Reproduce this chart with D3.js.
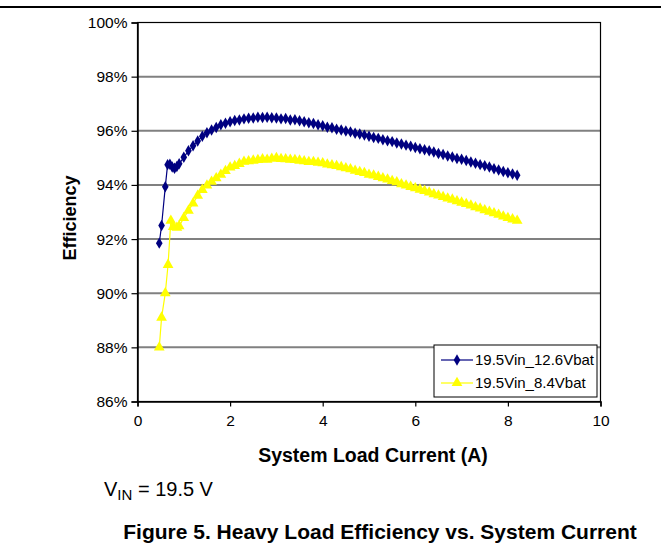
<!DOCTYPE html>
<html lang="en">
<head>
<meta charset="utf-8">
<title>Heavy Load Efficiency vs. System Current</title>
<script src="https://cdn.jsdelivr.net/npm/d3@7"></script>
<style>
  body { margin: 0; background: #fff; }
  text { font-family: Arial, "Liberation Sans", sans-serif; }
</style>
</head>
<body>
<script>
// load current (A) and efficiency (%)
var x126 = [0.47, 0.52, 0.60, 0.65, 0.70, 0.75, 0.80, 0.85, 0.9,
  1.0, 1.1, 1.2, 1.3, 1.4, 1.5, 1.6, 1.7, 1.8, 1.9, 2.0, 2.1, 2.2, 2.3, 2.4, 2.5, 2.6, 2.7, 2.8, 2.9,
  3.0, 3.1, 3.2, 3.3, 3.4, 3.5, 3.6, 3.7, 3.8, 3.9, 4.0, 4.1, 4.2, 4.3, 4.4, 4.5, 4.6, 4.7, 4.8, 4.9,
  5.0, 5.1, 5.2, 5.3, 5.4, 5.5, 5.6, 5.7, 5.8, 5.9, 6.0, 6.1, 6.2, 6.3, 6.4, 6.5, 6.6, 6.7, 6.8, 6.9,
  7.0, 7.1, 7.2, 7.3, 7.4, 7.5, 7.6, 7.7, 7.8, 7.9, 8.0, 8.1, 8.2];
var eff126 = [91.85, 92.50, 93.93, 94.75, 94.76, 94.66, 94.62, 94.68, 94.78,
  95.02, 95.26, 95.45, 95.62, 95.80, 95.93, 96.03, 96.12, 96.22, 96.28, 96.33, 96.38, 96.40, 96.44, 96.46, 96.47, 96.50, 96.49, 96.50, 96.48,
  96.47, 96.44, 96.45, 96.40, 96.41, 96.37, 96.33, 96.30, 96.27, 96.22, 96.19, 96.13, 96.11, 96.06, 96.03, 95.99, 95.96, 95.91, 95.88, 95.84,
  95.80, 95.75, 95.72, 95.67, 95.63, 95.60, 95.55, 95.51, 95.47, 95.43, 95.38, 95.34, 95.30, 95.26, 95.22, 95.16, 95.12, 95.07, 95.03, 94.98,
  94.95, 94.90, 94.85, 94.80, 94.75, 94.71, 94.66, 94.60, 94.55, 94.50, 94.45, 94.40, 94.36];

var x84 = [0.47, 0.52, 0.60, 0.66, 0.72, 0.77, 0.85, 0.9,
  1.0, 1.1, 1.2, 1.3, 1.4, 1.5, 1.6, 1.7, 1.8, 1.9, 2.0, 2.1, 2.2, 2.3, 2.4, 2.5, 2.6, 2.7, 2.8, 2.9,
  3.0, 3.1, 3.2, 3.3, 3.4, 3.5, 3.6, 3.7, 3.8, 3.9, 4.0, 4.1, 4.2, 4.3, 4.4, 4.5, 4.6, 4.7, 4.8, 4.9,
  5.0, 5.1, 5.2, 5.3, 5.4, 5.5, 5.6, 5.7, 5.8, 5.9, 6.0, 6.1, 6.2, 6.3, 6.4, 6.5, 6.6, 6.7, 6.8, 6.9,
  7.0, 7.1, 7.2, 7.3, 7.4, 7.5, 7.6, 7.7, 7.8, 7.9, 8.0, 8.1, 8.2];
var eff84 = [88.0, 89.1, 90.0, 91.05, 92.68, 92.45, 92.42, 92.48,
  92.78, 93.05, 93.32, 93.60, 93.82, 93.98, 94.12, 94.25, 94.38, 94.52, 94.65, 94.70, 94.78, 94.86, 94.88, 94.90, 94.92, 94.95, 94.93, 94.97,
  95.00, 94.96, 94.95, 94.93, 94.92, 94.90, 94.88, 94.85, 94.85, 94.82, 94.80, 94.76, 94.73, 94.70, 94.66, 94.62, 94.58, 94.53, 94.48, 94.44,
  94.38, 94.35, 94.30, 94.25, 94.20, 94.15, 94.10, 94.03, 93.98, 93.93, 93.88, 93.83, 93.78, 93.72, 93.66, 93.61, 93.56, 93.50, 93.46, 93.40,
  93.35, 93.30, 93.24, 93.18, 93.13, 93.07, 93.01, 92.96, 92.90, 92.84, 92.78, 92.73, 92.68];

var xTicks = [0, 2, 4, 6, 8, 10];
var yTicks = [86, 88, 90, 92, 94, 96, 98, 100];
var seriesNames = ["19.5Vin_12.6Vbat", "19.5Vin_8.4Vbat"];

var W = 661, H = 546;
var pLeft = 137.5, pRight = 600.5, pTop = 22.5, pBottom = 401.5;

var svg = d3.select("body").append("svg")
  .attr("width", W)
  .attr("height", H);

// rule across the top of the page
svg.append("line")
  .attr("x1", 0).attr("x2", W).attr("y1", 7).attr("y2", 7)
  .attr("stroke", "#000").attr("stroke-width", 2);

var x = d3.scaleLinear().domain([0, 10]).range([pLeft, pRight]);
var y = d3.scaleLinear().domain([86, 100]).range([pBottom, pTop]);

// gridlines
svg.append("g").selectAll("line")
  .data(yTicks.slice(1, -1))
  .enter().append("line")
  .attr("x1", pLeft).attr("x2", pRight)
  .attr("y1", function(d) { return y(d); })
  .attr("y2", function(d) { return y(d); })
  .attr("stroke", "#808080").attr("stroke-width", 2);

// plot frame
svg.append("rect")
  .attr("x", pLeft).attr("y", pTop)
  .attr("width", pRight - pLeft).attr("height", pBottom - pTop)
  .attr("fill", "none").attr("stroke", "#000").attr("stroke-width", 1.2);

var xAxis = svg.append("g")
  .attr("transform", "translate(0," + pBottom + ")")
  .call(d3.axisBottom(x).tickValues(xTicks).tickSize(5).tickPadding(8).tickFormat(d3.format("d")));
var yAxis = svg.append("g")
  .attr("transform", "translate(" + pLeft + ",0)")
  .call(d3.axisLeft(y).tickValues(yTicks).tickSize(6).tickPadding(4).tickFormat(function(d) { return d + "%"; }));

[xAxis, yAxis].forEach(function(a) {
  a.select(".domain").attr("stroke", "#000").attr("stroke-width", 1.5);
  a.selectAll(".tick line").attr("stroke", "#000").attr("stroke-width", 1.2);
  a.selectAll(".tick text").attr("fill", "#000")
    .style("font-family", "Arial, 'Liberation Sans', sans-serif")
    .style("font-size", "15.5px");
});

var line = d3.line()
  .x(function(d) { return x(d[0]); })
  .y(function(d) { return y(d[1]); });

var data126 = x126.map(function(v, i) { return [v, eff126[i]]; });
var data84 = x84.map(function(v, i) { return [v, eff84[i]]; });

var diamond = d3.symbol().type(d3.symbolDiamond).size(38);
var triangle = d3.symbol().type(d3.symbolTriangle).size(50);

function drawSeries(data, color, sym) {
  svg.append("path")
    .datum(data)
    .attr("d", line)
    .attr("fill", "none")
    .attr("stroke", color)
    .attr("stroke-width", 1.2);
  svg.append("g").selectAll("path")
    .data(data)
    .enter().append("path")
    .attr("d", sym)
    .attr("transform", function(d) { return "translate(" + x(d[0]) + "," + y(d[1]) + ")"; })
    .attr("fill", color);
}

drawSeries(data84, "#ffff00", triangle);
drawSeries(data126, "#000080", diamond);

// legend
var lg = svg.append("g");
lg.append("rect")
  .attr("x", 434).attr("y", 345).attr("width", 163).attr("height", 52)
  .attr("fill", "#fff").attr("stroke", "#000").attr("stroke-width", 1);
var legendRows = [
  { name: seriesNames[0], color: "#000080", sym: diamond, y: 360 },
  { name: seriesNames[1], color: "#ffff00", sym: triangle, y: 383 }
];
legendRows.forEach(function(r) {
  lg.append("line")
    .attr("x1", 441).attr("x2", 473).attr("y1", r.y).attr("y2", r.y)
    .attr("stroke", r.color).attr("stroke-width", 1.2);
  lg.append("path")
    .attr("d", r.sym)
    .attr("transform", "translate(457," + r.y + ")")
    .attr("fill", r.color);
  lg.append("text")
    .attr("x", 475).attr("y", r.y + 5)
    .style("font-size", "15px")
    .text(r.name);
});

// axis titles
svg.append("text")
  .attr("x", (pLeft + pRight) / 2 + 4).attr("y", 462)
  .attr("text-anchor", "middle")
  .style("font-size", "19.5px").style("font-weight", "bold")
  .text("System Load Current (A)");

svg.append("text")
  .attr("transform", "translate(76," + ((pTop + pBottom) / 2 + 6) + ") rotate(-90)")
  .attr("text-anchor", "middle")
  .style("font-size", "18px").style("font-weight", "bold")
  .text("Efficiency");

// condition note
var vin = svg.append("text")
  .attr("x", 104).attr("y", 496)
  .style("font-size", "20px");
vin.append("tspan").text("V");
vin.append("tspan").attr("dy", 4).style("font-size", "15px").text("IN");
vin.append("tspan").attr("dy", -4).text(" = 19.5 V");

// figure caption
svg.append("text")
  .attr("x", 380).attr("y", 539)
  .attr("text-anchor", "middle")
  .style("font-size", "21px").style("font-weight", "bold")
  .text("Figure 5. Heavy Load Efficiency vs. System Current");
</script>
</body>
</html>
